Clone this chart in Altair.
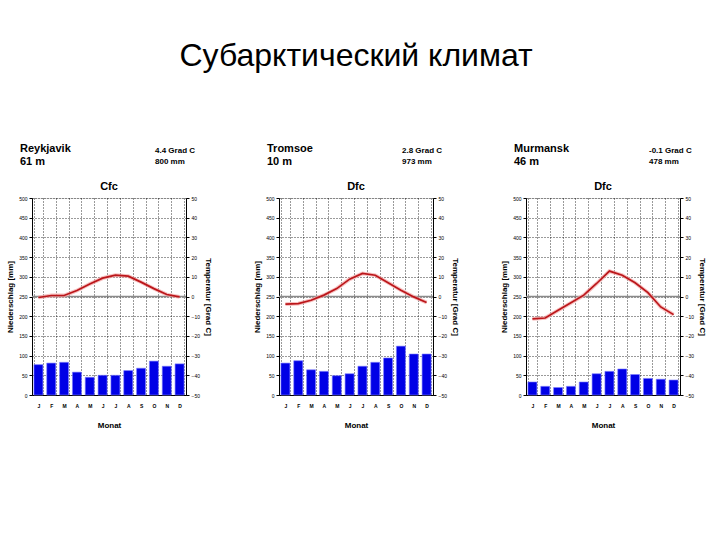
import altair as alt
import pandas as pd

FONT = "Liberation Sans"

months = ["Jan", "Feb", "Mär", "Apr", "Mai", "Jun", "Jul", "Aug", "Sep", "Okt", "Nov", "Dez"]

cities = ["Reykjavik", "Tromsoe", "Murmansk"]
elevations = ["61 m", "10 m", "46 m"]
mean_temps = ["4.4 Grad C", "2.8 Grad C", "-0.1 Grad C"]
annual_precip = ["800 mm", "973 mm", "478 mm"]
climates = ["Cfc", "Dfc", "Dfc"]

precip_reykjavik = [77, 81, 83, 58, 45, 50, 50, 62, 68, 86, 73, 79]
temp_reykjavik = [-0.5, 0.5, 0.5, 3.0, 6.4, 9.3, 10.8, 10.3, 7.3, 4.0, 1.0, -0.2]

precip_tromsoe = [81, 87, 64, 60, 49, 54, 73, 83, 94, 124, 104, 104]
temp_tromsoe = [-3.9, -3.6, -1.9, 0.7, 4.0, 8.8, 11.7, 10.8, 7.0, 3.2, -0.2, -3.0]

precip_murmansk = [33, 22, 19, 22, 33, 54, 60, 66, 52, 42, 40, 38]
temp_murmansk = [-11.4, -10.9, -7.0, -3.2, 0.7, 6.6, 12.9, 10.8, 7.0, 2.0, -5.3, -9.2]

precips = [precip_reykjavik, precip_tromsoe, precip_murmansk]
temps = [temp_reykjavik, temp_tromsoe, temp_murmansk]

W, H = 154, 197


def panel(i):
    df = pd.DataFrame({"Monat": months, "N": precips[i], "T": temps[i]})
    one = pd.DataFrame({"a": [0]})

    x = alt.X(
        "Monat:N",
        sort=months,
        scale=alt.Scale(paddingInner=0.3, paddingOuter=0.15),
        axis=alt.Axis(
            title="Monat", labelExpr="slice(datum.label, 0, 1)", tickBand="extent",
            grid=True, gridDash=[1, 2], gridColor="black", gridOpacity=1, gridWidth=0.8,
            labelAngle=0, labelFontSize=5, labelFontWeight="bold", labelFont=FONT,
            labelColor="black", titleFontSize=8, titleFontWeight="bold", titleFont=FONT,
            ticks=False, domainColor="black", labelPadding=8, titlePadding=13,
            labelOverlap=False,
        ),
    )

    n_scale = alt.Scale(domain=[0, 500], nice=False)
    n_axis = alt.Axis(
        title="Niederschlag [mm]", orient="left", values=list(range(0, 501, 50)),
        grid=True, gridDash=[1, 2], gridColor="black", gridOpacity=1, gridWidth=0.8,
        labelFontSize=5, labelFont=FONT, labelColor="black", tickSize=3,
        tickColor="black", domainColor="black", labelPadding=2, labelOverlap=False,
        titleFontSize=8, titleFontWeight="bold", titleFont=FONT, titlePadding=4,
    )
    yN = alt.Y("N:Q", scale=n_scale, axis=n_axis)

    yT = alt.Y(
        "T:Q",
        scale=alt.Scale(domain=[-50, 50], nice=False),
        axis=alt.Axis(
            title="Temperatur [Grad C]", orient="right", values=list(range(-50, 51, 10)),
            grid=False, labelFontSize=5, labelFont=FONT, labelColor="black", tickSize=3,
            tickColor="black", domainColor="black", labelPadding=2, labelOverlap=False,
            titleFontSize=8, titleFontWeight="bold", titleFont=FONT, titlePadding=4,
        ),
    )

    bars = alt.Chart(df).mark_bar(color="#0000e6", stroke="#7a7aff", strokeWidth=0.6).encode(x=x, y=yN)
    zero = alt.Chart(one).mark_rule(color="#8a8a8a", strokeWidth=1.3).encode(
        y=alt.YDatum(250, scale=n_scale, axis=n_axis)
    )

    def txt(text, dx, dy, size, align="left", weight="bold"):
        return alt.Chart(one).mark_text(
            align=align, baseline="alphabetic", fontSize=size, fontWeight=weight,
            font=FONT, color="black",
        ).encode(x=alt.value(dx), y=alt.value(dy), text=alt.value(text))

    texts = [
        txt(cities[i], -12, -46, 11),
        txt(elevations[i], -12, -33, 11),
        txt(mean_temps[i], 123, -45, 8),
        txt(annual_precip[i], 123, -34, 8),
        txt(climates[i], W / 2, -8, 11, align="center"),
    ]

    precip_layer = alt.layer(bars, zero, *texts)

    halo = alt.Chart(df).mark_line(color="#f4a4a4", strokeWidth=3.8, opacity=0.7).encode(x=x, y=yT)
    line = alt.Chart(df).mark_line(color="#bb161a", strokeWidth=1.7).encode(x=x, y=yT)
    temp_layer = alt.layer(halo, line)

    return alt.layer(precip_layer, temp_layer).resolve_scale(y="independent").properties(width=W, height=H)


chart = alt.hconcat(panel(0), panel(1), panel(2), spacing=41).properties(
    title=alt.TitleParams(
        "Субарктический климат", fontSize=32, font=FONT, fontWeight="normal",
        anchor="middle", offset=70, color="black",
    ),
    padding={"left": 6, "top": 39, "right": 5, "bottom": 5},
).configure_view(stroke=None).configure(font=FONT)

chart.save("out.html", embed_options={"renderer": "svg", "actions": False})
